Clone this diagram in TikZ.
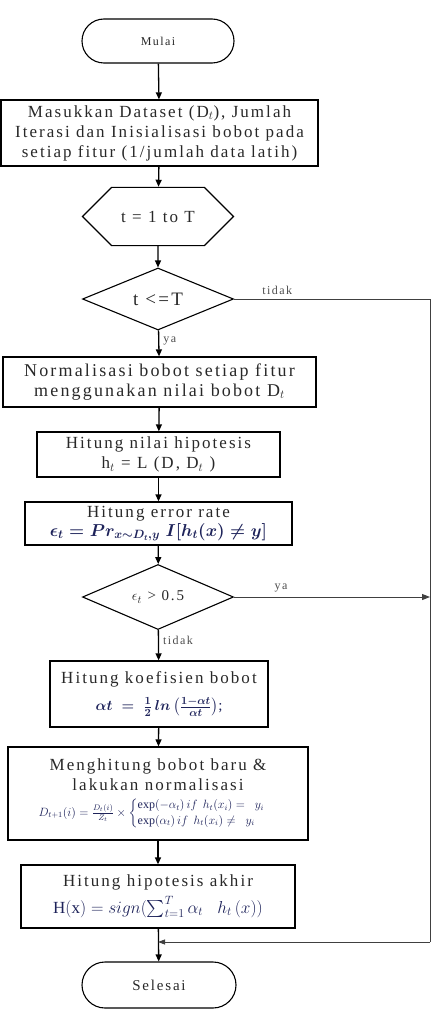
\documentclass[tikz,border=0pt]{standalone}
\usepackage{fontspec}
\usepackage{amsmath,amssymb}
\setmainfont{Liberation Serif}[LetterSpace=12]
\usetikzlibrary{shapes.geometric,shapes.misc,arrows.meta}
\definecolor{mathc}{RGB}{30,35,90}
\definecolor{txt}{RGB}{40,40,40}
\begin{document}
\begin{tikzpicture}[x=1pt,y=-1pt,
 box/.style={draw,line width=1.3pt,align=center,inner sep=0pt,text=txt,font=\fontsize{17}{20}\selectfont},
 term/.style={draw,line width=1.1pt,rounded rectangle,inner sep=0pt,text=txt},
 dec/.style={draw,diamond,line width=1.1pt,inner sep=0pt,aspect=2.3,text=txt,font=\fontsize{19}{20}\selectfont},
 arr/.style={-{Triangle[length=7pt,width=6pt]},line width=1.3pt},
 flow/.style={line width=0.8pt,draw=black!75},
 lbl/.style={font=\fontsize{12}{13}\selectfont,inner sep=1pt,text=black!70},
 mth/.style={text=mathc}]
\useasboundingbox (0,0) rectangle (434,1011);

\node[term,minimum width=152pt,minimum height=44pt,font=\fontsize{12}{13}\selectfont] (start) at (158,41) {Mulai};
\node[box,minimum width=317pt,minimum height=66pt] (input) at (159.5,133)
  {Masukkan Dataset (D$_t$), Jumlah\\Iterasi dan Inisialisasi bobot pada\\setiap fitur (1/jumlah data latih)};
\node[draw,chamfered rectangle,chamfered rectangle xsep=28pt,chamfered rectangle ysep=23.5pt,
  minimum width=151pt,minimum height=47pt,line width=1.1pt,inner sep=0pt,text=txt,font=\fontsize{17}{18}\selectfont] (loop) at (158,216.5) {t = 1 to T};
\node[dec,minimum width=151pt,minimum height=62pt] (cond) at (158,299) {t <=T};
\node[box,minimum width=313pt,minimum height=50pt,font=\fontsize{18}{20}\selectfont] (norm) at (159.5,382)
  {Normalisasi bobot setiap fitur\\menggunakan nilai bobot D$_t$};
\node[box,minimum width=243pt,minimum height=45pt] (hyp) at (158.5,454.5)
  {Hitung nilai hipotesis\\h$_t$ = L (D, D$_t$ )};
\node[box,minimum width=267pt,minimum height=43pt] (err) at (158.5,523.5)
  {Hitung error rate\\[-1pt]{\color{mathc}\fontsize{17}{17}\selectfont$\boldsymbol{\epsilon_t = Pr_{x\sim D_t,y}\; I[h_t(x)\neq y]}$}};
\node[dec,minimum width=151pt,minimum height=65pt,font=\fontsize{15}{16}\selectfont] (check) at (158,597) {$\epsilon_t$ > 0.5};
\node[box,minimum width=218pt,minimum height=66pt] (coef) at (159,694)
  {Hitung koefisien bobot\\[7pt]{\color{mathc}\fontsize{15}{15}\selectfont$\boldsymbol{\alpha t\; =\; \frac{1}{2}\, ln\left(\frac{1-\alpha t}{\alpha t}\right)}$;}};
\node[box,minimum width=300pt,minimum height=93pt] (upd) at (158,793.5)
  {Menghitung bobot baru \&\\lakukan normalisasi\\[6pt]
  {\color{mathc}\fontsize{12}{13}\selectfont$D_{t+1}(i)=\frac{D_t(i)}{Z_t}\times\begin{cases}\exp(-\alpha_t)\, if\;\, h_t(x_i) = \;\;y_i\\ \exp(\alpha_t)\, if\;\, h_t(x_i) \neq \;\;y_i\end{cases}$}};
\node[box,minimum width=274pt,minimum height=63pt] (final) at (158,896.5)
  {Hitung hipotesis akhir\\[5pt]{\color{mathc}\fontsize{17}{17}\selectfont$\mathrm{H(x)} = sign(\textstyle\sum_{t=1}^{T}\alpha_t\;\;\;h_t\,(x))$}};
\node[term,minimum width=154pt,minimum height=46pt,font=\fontsize{15}{16}\selectfont] (stop) at (159,985) {Selesai};

\coordinate (rtop) at (430,299);
\coordinate (rbot) at (430,942);
\coordinate (merge) at (158,942);
\coordinate (rmid) at (430,597);

\draw[arr] (start) -- (input);
\draw[arr] (input) -- (loop);
\draw[arr] (loop) -- (cond);
\draw[arr] (cond) -- node[lbl,right,pos=0.4,xshift=3pt]{ya} (norm);
\draw[arr] (norm) -- (hyp);
\draw[arr] (hyp) -- (err);
\draw[arr] (err) -- (check);
\draw[arr] (check) -- node[lbl,right,pos=0.35,xshift=3pt]{tidak} (coef);
\draw[arr] (coef) -- (upd);
\draw[arr] (upd) -- (final);
\draw[arr] (final) -- (stop);
\draw[flow] (cond.east) -- node[lbl,above,pos=0.22,yshift=3pt]{tidak} (rtop) -- (rbot);
\draw[flow,-{Triangle[length=7pt,width=5pt]}] (rbot) -- (merge);
\draw[flow,line width=1pt,-{Triangle[length=8pt,width=6pt]}] (check.east) -- node[lbl,above,pos=0.24,yshift=3pt]{ya} (rmid);
\end{tikzpicture}
\end{document}
